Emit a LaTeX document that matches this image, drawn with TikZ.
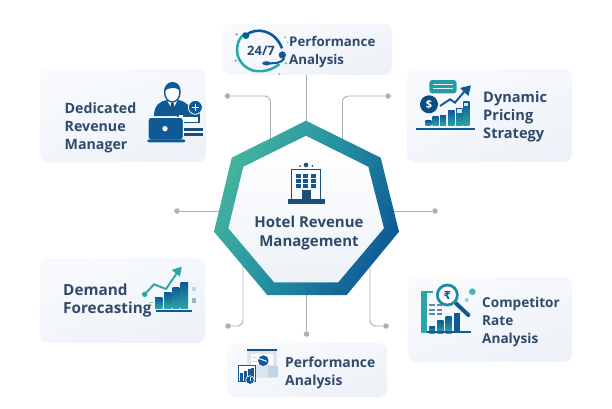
\documentclass[tikz,border=0pt]{standalone}
\usepackage{fontspec}
\setmainfont{Open Sans}
\newfontfamily\lbl{Open Sans Bold}
\newfontfamily\symb{DejaVu Sans Bold}
\usetikzlibrary{calc,arrows.meta}
\definecolor{ink}{HTML}{2F4A6B}
\definecolor{navy}{HTML}{0F5A96}
\definecolor{deep}{HTML}{1F4E79}
\definecolor{teal}{HTML}{2BA6A6}
\definecolor{mint}{HTML}{46B59E}
\definecolor{conn}{HTML}{A9B0BA}
\definecolor{cardA}{HTML}{F8FAFD}
\definecolor{cardB}{HTML}{EEF2F8}
\tikzset{
 card/.style={rounded corners=8pt,draw=none,inner sep=0pt,top color=cardA,bottom color=cardB,shading angle=20},
 label/.style={text=ink,anchor=west,align=left,inner sep=0pt,font=\lbl\fontsize{#1}{18}\selectfont},
 label/.default=13.5,
 wire/.style={draw=conn,line width=.9pt,rounded corners=6pt},
 tip/.style={circle,fill=conn,minimum size=5.5pt,inner sep=0pt},
 barshade/.style={top color=navy,bottom color=teal,draw=none},
 zoomed/.style={shift={(#1)},x=.33333pt,y=-.33333pt},
}
\begin{document}
\begin{tikzpicture}[x=1pt,y=-1pt]
\useasboundingbox (0,0) rectangle (612,408);
\fill[white] (0,0) rectangle (612,408);
% cards
\shade[card] (223,24) rectangle (392,75);
\shade[card] (40,69) rectangle (206,162);
\shade[card] (407,69) rectangle (572,162);
\shade[card] (40,258) rectangle (205,343);
\shade[card] (408,277) rectangle (572,362);
\shade[card] (227,343) rectangle (387,397);
\coordinate (cardTop) at (306.5,75);
% connector tips
\node[tip] (tUL) at (227.5,96) {};
\node[tip] (tUR) at (388,96) {};
\node[tip] (tL) at (177,211) {};
\node[tip] (tR) at (435,211) {};
\node[tip] (tLL) at (228,326) {};
\node[tip] (tLR) at (386,326) {};
\node[tip] (tB) at (306.5,334) {};
\coordinate (pUL) at (270.5,150);
\coordinate (pUR) at (342.5,150);
\coordinate (pL) at (225,211);
\coordinate (pR) at (390,211);
\coordinate (pLL) at (243,255);
\coordinate (pLR) at (370,255);
\coordinate (pB) at (306.5,290);
\coordinate (pT) at (306.5,125);
\draw[wire] (cardTop) -- (pT);
\draw[wire] (tUL) -| (pUL);
\draw[wire] (tUR) -| (pUR);
\draw[wire] (tL) -- (pL);
\draw[wire] (tR) -- (pR);
\draw[wire] (tLL) -| (pLL);
\draw[wire] (tLR) -| (pLR);
\draw[wire] (tB) -- (pB);
% heptagon
\fill[white,top color=white,bottom color=cardB]
 (306,135.7) -- (368.3,166.7) -- (384,228.3) -- (338.3,282.3) -- (274,282.3) -- (228.3,228.3) -- (243.3,166.7) -- cycle;
\shade[even odd rule,top color=mint,bottom color=navy,middle color=teal!70!navy,shading angle=62]
 (306,120.7) -- (380.7,157.7) -- (399,231.7) -- (346.7,295) -- (267.3,295) -- (214,231.7) -- (231.7,157.7) -- cycle
 (306,135.7) -- (368.3,166.7) -- (384,228.3) -- (338.3,282.3) -- (274,282.3) -- (228.3,228.3) -- (243.3,166.7) -- cycle;
% hotel icon
\begin{scope}[zoomed={205,110}]
 \draw[deep,line width=1.2pt] (260,268) -- (260,178) -- (347,178) -- (347,268);
 \fill[deep] (250,268) rectangle (360,282);
 \fill[deep] (290,240) rectangle (318,268);
 \foreach \xx in {272,294,318}\foreach \yy in {192,207,222}{\fill[navy!80!ink] (\xx,\yy) rectangle ++(16,12);}
 \fill[deep] (303,165) circle (7);
 \fill[deep] (285,168) circle (3);\fill[deep] (322,168) circle (3);
\end{scope}
\node[label=15,align=center,anchor=center,font=\lbl\fontsize{15}{19}\selectfont] (hub) at (309,233.5) {Hotel Revenue\\Management};
% labels
\node[label=13.3] (l1) at (289,52.5) {Performance\\Analysis};
\node[label=14.2] (l2) at (64.5,127.5) {Dedicated\\Revenue\\Manager};
\node[label=14.6] (l3) at (483,117) {Dynamic\\Pricing\\Strategy};
\node[label=15.3] (l4) at (63,301) {Demand\\Forecasting};
\node[label=13.6] (l5) at (482,322) {Competitor\\Rate\\Analysis};
\node[label=13.9] (l6) at (285,373) {Performance\\Analysis};
% 24/7 icon
\begin{scope}[zoomed={200,0}]
 \draw[teal,line width=2.5pt] (136,99) .. controls (95,130) and (105,195) .. (160,212) .. controls (190,218) and (220,208) .. (238,192);
 \draw[navy,line width=2.6pt] (138,105) .. controls (170,80) and (225,90) .. (246,145);
 \fill[navy] (138,107) circle (10);
 \fill[navy] (247,165) circle (11);
 \draw[navy,line width=2pt] (253,175) .. controls (245,190) and (225,190) .. (195,190);
 \fill[navy,rounded corners=3pt] (187,184) rectangle (212,196);
 \foreach \xx/\yy/\rr in {110/103/4,107/182/4,255/112/3,258/190/4,263/127/2.5,238/222/3}{\fill[teal!75] (\xx,\yy) circle (\rr);}
\end{scope}
\node[font=\lbl\fontsize{13}{15}\selectfont,text=ink,inner sep=0pt] (n247) at (261,50.5) {24/7};
% manager icon
\begin{scope}[zoomed={30,60}]
 \fill[navy] (372,168) .. controls (372,135) and (392,122) .. (412,120) -- (445,120) .. controls (470,125) and (485,140) .. (490,168) -- cycle;
 \fill[white] (412,122) -- (427,150) -- (442,122) -- cycle;
 \fill[deep] (423,128) -- (431,128) -- (434,150) -- (427,160) -- (420,150) -- cycle;
 \draw[navy,line width=1.4pt,fill=white] (427,97) ellipse (23 and 29);
 \fill[navy] (403,95) .. controls (400,60) and (455,55) .. (451,95) .. controls (445,80) and (412,80) .. (403,95) -- cycle;
 \fill[deep] (442,158) rectangle (510,190);
 \fill[white] (448,164) rectangle (505,185);
 \fill[navy] (460,170) -- (505,170) -- (505,160) -- (460,160) -- cycle;
 \fill[deep] (462,204) rectangle (520,212);
 \fill[deep] (462,219) rectangle (520,227);
 \fill[navy,draw=white,line width=1pt,rounded corners=3pt] (354,172) rectangle (460,240);
 \fill[white] (405,206) circle (8);
 \fill[navy,rounded corners=2pt] (352,238) rectangle (466,247);
 \fill[navy,draw=white,line width=.8pt] (496,142) circle (21);
 \fill[white] (486,140) rectangle (506,145);
 \fill[white] (493.5,132) rectangle (498.5,153);
\end{scope}
% pricing icon
\begin{scope}[zoomed={400,60}]
 \fill[teal!85!navy,rounded corners=3pt] (88,60) rectangle (170,100);
 \fill[white!85!teal] (100,72) rectangle (158,75);
 \fill[white!85!teal] (100,85) rectangle (158,88);
 \fill[navy!85!black] (87,133) circle (27);
 \node[font=\lbl\fontsize{11}{11}\selectfont,text=white,inner sep=0pt] (dollar) at (87,133) {\$};
 \draw[navy,line width=1.9pt] (120,138) -- (150,118) -- (165,128) -- (195,92);
 \fill[navy] (213,76) -- (180,84) -- (205,108) -- cycle;
 \foreach \xa/\xb/\yt in {76/94/182,98/116/168,120/138/165,144/164/152,168/188/145,190/208/125}{\shade[barshade] (\xa,\yt) rectangle (\xb,197);}
 \fill[white!75!teal] (171,148) rectangle (185,158);
 \fill[white!75!teal] (193,128) rectangle (205,138);
 \fill[navy] (48,204) rectangle (225,210);
\end{scope}
% forecasting icon
\begin{scope}[zoomed={30,250}]
 \foreach \xa/\xb/\yt in {375/397/142,402/424/128,428/448/113,452/474/98}{\shade[barshade] (\xa,\yt) rectangle (\xb,175);}
 \fill[navy] (378,181) rectangle (485,187);
 \fill[teal!60] (358,156) rectangle (370,160);
 \fill[teal] (344,133) circle (8);
 \draw[teal,line width=1.9pt] (344,133) -- (372,103) -- (408,117) -- (440,70);
 \fill[teal] (455,50) -- (425,60) -- (450,80) -- cycle;
 \fill[navy!25] (486,110) rectangle (499,123);
 \fill[navy!45] (486,145) rectangle (499,158);
\end{scope}
% competitor icon
\begin{scope}[zoomed={400,270}]
 \fill[teal] (62,62) rectangle (80,190);
 \fill[teal] (62,62) rectangle (100,70);
 \foreach \xa/\xb/\yt in {88/105/170,112/130/152,137/155/140}{\shade[barshade] (\xa,\yt) rectangle (\xb,190);}
 \fill[navy] (162,128) rectangle (180,190);
 \fill[navy] (80,182) rectangle (212,190);
 \foreach \yy in {102,117,130}{\fill[navy!70] (86,\yy) rectangle (105,\yy+5); \fill[navy!70] (112,\yy) rectangle (125,\yy+5);}
 \draw[navy,line width=4pt,line cap=round] (168,100) -- (205,135);
 \draw[teal!65!navy,line width=2.8pt,fill=white] (142,75) circle (30);
 \node[font=\symb\fontsize{11}{12}\selectfont,text=navy,inner sep=0pt] (rupee) at (142,75) {₹};
 \fill[teal!85] (217,65) circle (10);
 \fill[teal!50] (200,90) circle (6);
\end{scope}
% performance icon
\begin{scope}[zoomed={220,300}]
 \fill[navy!15] (82,147) rectangle (170,233);
 \fill[deep] (82,147) rectangle (170,153);
 \fill[white] (92,162) rectangle (160,195);
 \fill[navy!25] (145,197) rectangle (174,232);
 \fill[navy!25] (95,170) rectangle (112,174);
 \fill[navy!25] (95,182) rectangle (112,186);
 \fill[navy] (130,182) circle (16);
 \draw[white,line width=1pt] (118,176) -- (140,184);
 \fill[white,draw=navy,line width=1pt] (55,196) rectangle (105,243);
 \foreach \xa/\yt in {60/220,72/212,84/208,94/204}{\fill[navy] (\xa,\yt) rectangle (\xa+9,243);}
 \fill[navy,draw=white,line width=.6pt] (90,240) circle (13);
 \draw[white,line width=.7pt] (90,232) -- (90,244);
\end{scope}
\end{tikzpicture}
\end{document}
